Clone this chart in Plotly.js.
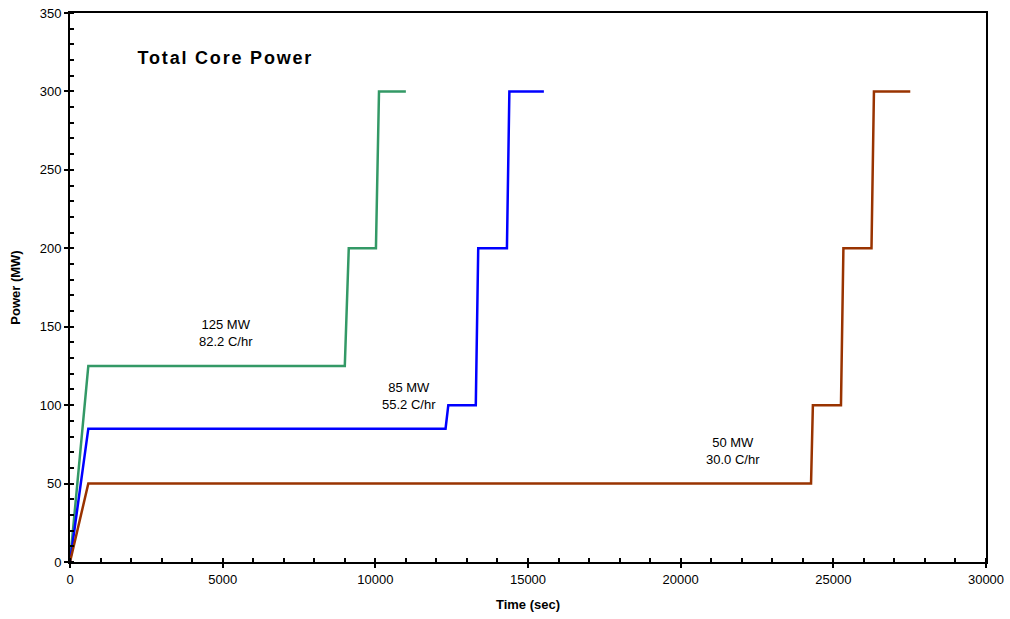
<!DOCTYPE html>
<html>
<head>
<meta charset="utf-8">
<script src="https://cdn.plot.ly/plotly-3.0.1.min.js"></script>
<style>html,body{margin:0;padding:0;background:#fff;}#chart{width:1010px;height:619px;}
.annotation:last-child text{letter-spacing:1.8px;}</style>
</head>
<body>
<div id="chart"></div>
<script>
const time125 = [0, 600, 9000, 9130, 10020, 10120, 11000];
const power125 = [0, 125, 125, 200, 200, 300, 300];
const time85 = [0, 600, 12300, 12390, 13290, 13370, 14310, 14390, 15520];
const power85 = [0, 85, 85, 100, 100, 200, 200, 300, 300];
const time50 = [0, 600, 24270, 24330, 25250, 25330, 26250, 26330, 27520];
const power50 = [0, 50, 50, 100, 100, 200, 200, 300, 300];
const seriesLabels = ['125 MW<br>82.2 C/hr', '85 MW<br>55.2 C/hr', '50 MW<br>30.0 C/hr'];
const labelPos = [[5100, 146], [11100, 106], [21700, 71]];

const font = 'Liberation Sans, Arial, sans-serif';
const traces = [
  {x: time125, y: power125, color: '#339966'},
  {x: time85, y: power85, color: '#0000ff'},
  {x: time50, y: power50, color: '#993300'}
].map(s => ({x: s.x, y: s.y, type: 'scatter', mode: 'lines', line: {color: s.color, width: 2.5}, showlegend: false, hoverinfo: 'skip'}));

const annotations = seriesLabels.map((t, i) => ({
  x: labelPos[i][0], y: labelPos[i][1], xref: 'x', yref: 'y', text: t, showarrow: false,
  font: {family: font, size: 13, color: '#000'}, align: 'center'
}));
annotations.push({x: 2610, y: 321, xref: 'x', yref: 'y', text: '<b>Total Core Power</b>', showarrow: false,
  xanchor: 'left', font: {family: font, size: 18, color: '#000'}});

const axBase = {showgrid: false, zeroline: false, showline: true, linecolor: '#000', linewidth: 2,
  ticks: 'outside', ticklen: 4, tickwidth: 2, tickcolor: '#000', mirror: true, tickformat: 'd',
  tickfont: {family: font, size: 13, color: '#000'}};

const layout = {
  width: 1010, height: 619,
  margin: {l: 70, r: 24, t: 13, b: 57},
  paper_bgcolor: '#fff', plot_bgcolor: '#fff',
  xaxis: Object.assign({}, axBase, {range: [0, 30000], dtick: 5000, tick0: 0,
    minor: {dtick: 1000, ticks: 'inside', ticklen: 4, tickwidth: 2, tickcolor: '#000', showgrid: false},
    title: {text: '<b>Time (sec)</b>', font: {family: font, size: 13, color: '#000'}, standoff: 14}}),
  yaxis: Object.assign({}, axBase, {range: [0, 350], dtick: 50, tick0: 0,
    minor: {dtick: 10, ticks: 'inside', ticklen: 4, tickwidth: 2, tickcolor: '#000', showgrid: false},
    title: {text: '<b>Power (MW)</b>', font: {family: font, size: 13, color: '#000'}, standoff: 16}}),
  xaxis2: {overlaying: 'x', range: [0, 30000], dtick: 5000, ticks: 'inside', ticklen: 4, tickwidth: 2,
    tickcolor: '#000', showticklabels: false, showgrid: false, zeroline: false, showline: false, anchor: 'y'},
  yaxis2: {overlaying: 'y', range: [0, 350], dtick: 50, ticks: 'inside', ticklen: 4, tickwidth: 2,
    tickcolor: '#000', showticklabels: false, showgrid: false, zeroline: false, showline: false, anchor: 'x'},
  annotations: annotations
};
traces.push({x: [0], y: [0], xaxis: 'x2', yaxis: 'y2', mode: 'markers', marker: {opacity: 0}, showlegend: false, hoverinfo: 'skip', type: 'scatter'});

Plotly.newPlot('chart', traces, layout, {displayModeBar: false, staticPlot: true});
</script>
</body>
</html>
